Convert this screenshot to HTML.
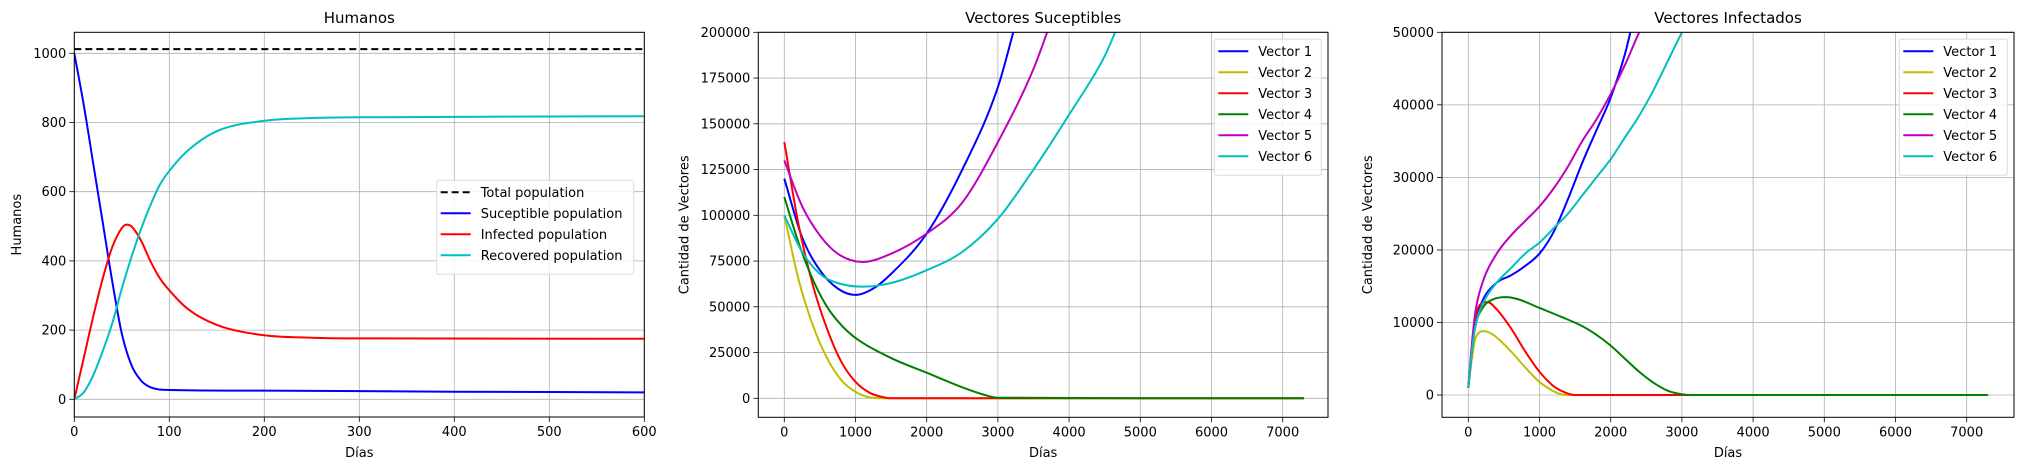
<!DOCTYPE html>
<html><head><meta charset="utf-8"><style>
html,body{margin:0;padding:0;background:#fff;}
svg{display:block;font-family:"DejaVu Sans","Liberation Sans",sans-serif;}
</style></head><body>
<svg id="fig" width="2021" height="470" viewBox="0 0 2021 470" xmlns="http://www.w3.org/2000/svg"></svg>
<script>
// ---------- Panel 1 data (Humanos) ----------
const p1TotalX=[0,600];
const p1TotalY=[1012,1012];
const p1SusX=[0,10,20,30,40,50,60,70,80,100,200,400,600];
const p1SusY=[1000,850,680,510,340,190,100,55,35,27,25,22,20];
const p1InfX=[0,10,20,30,40,50,55,60,70,80,90,100,120,150,200,250,300,600];
const p1InfY=[0,120,240,350,440,495,505,500,460,400,350,315,260,215,185,178,176,175];
const p1RecX=[0,10,20,30,40,50,60,70,80,90,100,120,150,200,250,300,600];
const p1RecY=[0,20,70,140,220,320,410,490,560,620,660,720,775,805,813,815,818];
const p1XTicks=[0,100,200,300,400,500,600];
const p1YTicks=[0,200,400,600,800,1000];
const p1Legend=["Total population","Suceptible population","Infected population","Recovered population"];
// ---------- Panel 2 data (Vectores Suceptibles) ----------
const p2V1X=[0,250,500,750,1000,1250,1500,2000,2500,3000,3250];
const p2V1Y=[120000,88000,70000,60000,56500,60000,68000,90000,125000,170000,205000];
const p2V2X=[0,200,400,600,800,1000,1200,1400,7300];
const p2V2Y=[100000,65000,40000,22000,10000,3500,500,0,0];
const p2V3X=[0,200,400,600,800,1000,1200,1400,1500,7300];
const p2V3Y=[140000,95000,62000,38000,20000,9000,3000,500,0,0];
const p2V4X=[0,200,400,600,800,1000,1500,2000,2500,2800,3000,7300];
const p2V4Y=[110000,85000,65000,50000,40000,33000,22000,14000,6000,2000,300,0];
const p2V5X=[0,250,500,750,1100,1500,2000,2500,3000,3500,3800];
const p2V5Y=[130000,105000,89000,79000,74500,79000,90000,107000,140000,180000,212000];
const p2V6X=[0,250,500,750,1100,1500,2000,2500,3000,3500,4000,4500,4700];
const p2V6Y=[100000,80000,68000,63000,61000,63000,70000,80000,98000,125000,155000,187000,205000];
const p2XTicks=[0,1000,2000,3000,4000,5000,6000,7000];
const p2YTicks=[0,25000,50000,75000,100000,125000,150000,175000,200000];
// ---------- Panel 3 data (Vectores Infectados) ----------
const p3V1X=[0,50,100,200,400,600,800,1000,1200,1400,1600,1800,2000,2200,2300];
const p3V1Y=[1000,6000,10000,13000,15500,16500,17800,19500,22500,27000,32000,36500,41000,47000,51000];
const p3V2X=[0,50,100,220,350,600,800,1000,1200,1300,1400,1500];
const p3V2Y=[1000,5000,7800,8800,8300,6000,3800,1800,500,100,0,0];
const p3V3X=[0,50,100,200,270,400,600,800,1000,1200,1400,1500,7300];
const p3V3Y=[1000,6000,10500,12700,12800,11800,9200,6000,3200,1200,200,0,0];
const p3V4X=[0,50,100,200,350,530,700,1000,1300,1600,1800,2000,2200,2400,2600,2800,3000,3100,7300];
const p3V4Y=[1000,6000,9500,12000,13200,13500,13200,12000,10800,9500,8300,6800,5000,3200,1700,600,100,0,0];
const p3V5X=[0,50,100,200,400,600,800,1000,1200,1400,1600,1800,2000,2200,2400,2450];
const p3V5Y=[1000,7000,11500,15500,19500,22000,24000,26000,28500,31500,35000,38000,41500,45500,50000,51000];
const p3V6X=[0,50,100,200,400,600,800,1000,1200,1400,1600,1800,2000,2200,2400,2600,2800,3000,3050];
const p3V6Y=[1000,6000,9500,12500,15500,17500,19500,21000,23000,25000,27500,30000,32500,35500,38500,42000,46000,50000,51000];
const p3XTicks=[0,1000,2000,3000,4000,5000,6000,7000];
const p3YTicks=[0,10000,20000,30000,40000,50000];
const vecLegend=["Vector 1","Vector 2","Vector 3","Vector 4","Vector 5","Vector 6"];
const vecColors=["#0000ff","#bfbf00","#ff0000","#008000","#bf00bf","#00bfbf"];

const NS="http://www.w3.org/2000/svg";
const svg=document.getElementById('fig');
function el(tag,attrs,parent){const e=document.createElementNS(NS,tag);for(const k in attrs)e.setAttribute(k,attrs[k]);(parent||svg).appendChild(e);return e;}
function lin(d0,d1,r0,r1){return v=>r0+(v-d0)*(r1-r0)/(d1-d0);}
// monotone cubic (Fritsch-Carlson) in data space, sampled densely
function pathFrom(xs,ys,sx,sy){
  const n=xs.length;
  if(n<3){return "M"+sx(xs[0])+","+sy(ys[0])+" L"+sx(xs[n-1])+","+sy(ys[n-1]);}
  const d=[],m=new Array(n);
  for(let i=0;i<n-1;i++)d.push((ys[i+1]-ys[i])/(xs[i+1]-xs[i]));
  m[0]=d[0];m[n-1]=d[n-2];
  for(let i=1;i<n-1;i++){m[i]=(d[i-1]*d[i]<=0)?0:(d[i-1]+d[i])/2;}
  for(let i=0;i<n-1;i++){
    if(d[i]===0){m[i]=0;m[i+1]=0;continue;}
    const a=m[i]/d[i],b=m[i+1]/d[i],s=a*a+b*b;
    if(s>9){const t=3/Math.sqrt(s);m[i]=t*a*d[i];m[i+1]=t*b*d[i];}
  }
  let p="M"+sx(xs[0]).toFixed(2)+","+sy(ys[0]).toFixed(2);
  for(let i=0;i<n-1;i++){
    const h=xs[i+1]-xs[i];
    const x1=xs[i]+h/3,y1=ys[i]+m[i]*h/3,x2=xs[i+1]-h/3,y2=ys[i+1]-m[i+1]*h/3;
    p+=" C"+sx(x1).toFixed(2)+","+sy(y1).toFixed(2)+" "+sx(x2).toFixed(2)+","+sy(y2).toFixed(2)+" "+sx(xs[i+1]).toFixed(2)+","+sy(ys[i+1]).toFixed(2);
  }
  return p;
}
function axes(id,L,R,T,B,sx,sy,xt,yt,title,ylabel,tcx){
  const g=el('g',{});
  
  
  const cp=el('clipPath',{id:id+'clip'},g);el('rect',{x:L,y:T,width:R-L,height:B-T},cp);
  xt.forEach(v=>{const x=sx(v);
    const gl=el('line',{x1:x,x2:x,y1:T,y2:B,stroke:'#b0b0b0','stroke-width':0.8},g);
    
    el('line',{x1:x,x2:x,y1:B,y2:B+5,stroke:'#000','stroke-width':0.8},g);
    const t=el('text',{x:x,y:B+19,'text-anchor':'middle','font-size':13},g);t.textContent=v;
    });
  yt.forEach(v=>{const y=sy(v);
    const gl=el('line',{x1:L,x2:R,y1:y,y2:y,stroke:'#b0b0b0','stroke-width':0.8},g);
    
    el('line',{x1:L-5,x2:L,y1:y,y2:y,stroke:'#000','stroke-width':0.8},g);
    const t=el('text',{x:L-8,y:y+4.5,'text-anchor':'end','font-size':13},g);t.textContent=v;
    });
  const tt=el('text',{x:tcx,y:23,'text-anchor':'middle','font-size':15},g);tt.textContent=title;
  
  const xl=el('text',{x:(L+R)/2,y:457,'text-anchor':'middle','font-size':13},g);xl.textContent='Días';
  
  const ylx=id==='p1'?21:L-70;
  const yl=el('text',{x:ylx,y:(T+B)/2,'text-anchor':'middle','font-size':13,transform:'rotate(-90 '+ylx+' '+(T+B)/2+')'},g);yl.textContent=ylabel;
  
  return g;
}
function frame(g,L,R,T,B){const r=el('rect',{x:L,y:T,width:R-L,height:B-T,fill:'none',stroke:'#000','stroke-width':1},g);
  }
function series(g,id,xs,ys,sx,sy,color,dash){
  const p=el('path',{d:pathFrom(xs,ys,sx,sy),fill:'none',stroke:color,'stroke-width':2,'clip-path':'url(#'+id+'clip)'},g);
  if(dash)p.setAttribute('stroke-dasharray','7,4');
  return p;
}
function legend(g,x0,y0,w,labels,colors,dashes,step){
  const box=el('rect',{x:x0,y:y0,width:w,height:labels.length*step+10,fill:'#fff','fill-opacity':0.85,stroke:'#dcdcdc','stroke-width':1,rx:2},g);
  
  labels.forEach((lb,i)=>{const y=y0+12+i*step;
    const ln=el('line',{x1:x0+4,x2:x0+34,y1:y,y2:y,stroke:colors[i],'stroke-width':2},g);
    if(dashes&&dashes[i])ln.setAttribute('stroke-dasharray','7,4');
    
    const t=el('text',{x:x0+44,y:y+4.5,'font-size':13},g);t.textContent=lb;
    });
}
// Panel 1
{const L=74.3,R=644.3,T=32.3,B=417;
 const sx=lin(0,600,L,R),sy=lin(0,1000,399.3,53.3);
 const g=axes('p1',L,R,T,B,sx,sy,p1XTicks,p1YTicks,'Humanos','Humanos',(L+R)/2);
 const a=series(g,'p1',p1TotalX,p1TotalY,sx,sy,'#000',true);
 const b=series(g,'p1',p1SusX,p1SusY,sx,sy,'#0000ff');
 const c=series(g,'p1',p1InfX,p1InfY,sx,sy,'#ff0000');
 const d=series(g,'p1',p1RecX,p1RecY,sx,sy,'#00bfbf');
 frame(g,L,R,T,B);
 legend(g,436.7,180.3,197,p1Legend,['#000','#0000ff','#ff0000','#00bfbf'],[true,false,false,false],21);
}
// Panel 2
{const L=758.3,R=1328,T=32.3,B=417.3;
 const sx=lin(0,1000,784.3,855.5),sy=lin(0,200000,398.3,32.3);
 const g=axes('p2',L,R,T,B,sx,sy,p2XTicks,p2YTicks,'Vectores Suceptibles','Cantidad de Vectores',(L+R)/2);
 const X=[p2V1X,p2V2X,p2V3X,p2V4X,p2V5X,p2V6X],Y=[p2V1Y,p2V2Y,p2V3Y,p2V4Y,p2V5Y,p2V6Y];
 [0,1,2,3,4,5].forEach(i=>{const s=series(g,'p2',X[i],Y[i],sx,sy,vecColors[i]);
   });
 frame(g,L,R,T,B);
 legend(g,1214.3,39.3,107,vecLegend,vecColors,null,21);
}
// Panel 3
{const L=1442,R=2014,T=32.3,B=417.3;
 const sx=lin(0,1000,1468.3,1539.5),sy=lin(0,50000,395,32.3);
 const g=axes('p3',L,R,T,B,sx,sy,p3XTicks,p3YTicks,'Vectores Infectados','Cantidad de Vectores',(L+R)/2);
 const X=[p3V1X,p3V2X,p3V3X,p3V4X,p3V5X,p3V6X],Y=[p3V1Y,p3V2Y,p3V3Y,p3V4Y,p3V5Y,p3V6Y];
 [0,1,2,3,4,5].forEach(i=>{const s=series(g,'p3',X[i],Y[i],sx,sy,vecColors[i]);
   });
 frame(g,L,R,T,B);
 legend(g,1899.3,39.3,108,vecLegend,vecColors,null,21);
}
</script>
</body></html>
